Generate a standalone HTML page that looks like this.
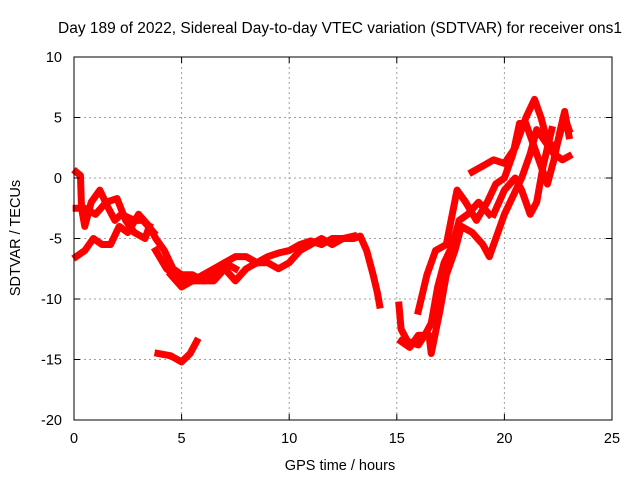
<!DOCTYPE html>
<html><head><meta charset="utf-8"><style>
body{margin:0;background:#fff;}
svg{display:block;font-family:"Liberation Sans",sans-serif;}
</style></head><body>
<svg id="chart" width="640" height="480">
<text x="340" y="33" font-size="15.5" text-anchor="middle">Day 189 of 2022, Sidereal Day-to-day VTEC variation (SDTVAR) for receiver ons1</text>
<text x="340" y="470" font-size="14.5" text-anchor="middle">GPS time / hours</text>
<text transform="translate(20,238) rotate(-90)" font-size="14.5" text-anchor="middle">SDTVAR / TECUs</text>
<g id="grid"></g><g id="series"></g><g id="axes"></g>
</svg>
<script>
const xTicks=[0,5,10,15,20,25];
const yTicks=[10,5,0,-5,-10,-15,-20];
const track1=[[0.1,0.5],[0.3,0.2],[0.35,-2.5],[0.5,-4],[0.8,-2],[1.2,-1],[1.6,-2.5],[1.9,-3.5],[2.2,-3],[2.8,-3.5],[3.2,-3.5],[3.7,-4.5]];
const track2=[[0.1,-2.5],[0.5,-2.5],[1,-3],[1.5,-2],[2,-1.7],[2.4,-3.5],[2.8,-4.5],[3.3,-5],[3.5,-4]];
const track3=[[0.1,-6.5],[0.5,-6],[0.9,-5],[1.3,-5.5],[1.7,-5.5],[2.1,-4],[2.5,-4.5],[3,-3],[3.5,-4],[3.8,-5],[4.2,-6],[4.6,-7.5],[5,-8],[5.5,-8],[6,-8.5],[6.5,-8],[7,-7],[7.5,-7.5]];
const track4=[[3.8,-6],[4.3,-7.5],[5,-8.5],[5.5,-8.5],[6,-8],[6.5,-7.5],[7,-7],[7.5,-6.5],[8,-6.5],[8.5,-7],[9,-6.5],[9.5,-6.2],[10,-6],[10.5,-5.5],[11,-5.2],[11.5,-5.5],[12,-5],[12.5,-5],[13,-5],[13.3,-4.8],[13.6,-6],[13.9,-8],[14.1,-9.5],[14.2,-10.5]];
const track5=[[4.5,-8],[5,-9],[5.5,-8.5],[6,-8.5],[6.5,-8.5],[7,-7.5],[7.5,-8.5],[8,-7.5],[8.5,-7],[9,-7],[9.5,-7.5],[10,-7],[10.5,-6],[11,-5.5],[11.5,-5],[12,-5.5],[12.5,-5],[13,-4.8]];
const track6=[[3.9,-14.5],[4.5,-14.7],[5,-15.2],[5.4,-14.5],[5.7,-13.5]];
const track7=[[15.1,-10.5],[15.2,-12.5],[15.5,-13.5],[16,-13.8],[16.3,-13],[16.6,-12],[16.9,-9],[17.2,-7],[17.6,-5.5],[17.9,-3.5],[18.3,-3],[18.8,-2],[19.3,-3]];
const track8=[[15.2,-13.5],[15.6,-14],[16,-13],[16.5,-13],[16.6,-14.5],[17,-11],[17.3,-8],[17.7,-6],[18,-4],[18.5,-4.5],[19,-5.5],[19.3,-6.5],[19.6,-5],[20,-3],[20.4,-1.5],[20.8,0],[21.2,2],[21.5,4],[21.9,3],[22.3,2],[22.7,1.5],[23,1.8]];
const track9=[[16,-11],[16.4,-8],[16.8,-6],[17.3,-5.5],[17.8,-1],[18.2,-2],[18.7,-3.5],[19.2,-2],[19.6,-0.5],[20,0],[20.4,2],[20.7,4.5],[21,4.5],[21.3,3],[21.7,1],[22,-0.5],[22.3,1.5],[22.6,4],[22.8,5.5],[23,3.5]];
const track10=[[18.5,0.5],[19,1],[19.5,1.5],[20,1.2],[20.5,2.5],[21,5],[21.4,6.5],[21.7,5],[22,3],[22.4,2.5],[22.8,5],[23,4]];
const track11=[[19.5,-3],[20,-1],[20.5,0],[20.8,-1],[21.2,-3],[21.5,-2],[21.8,1],[22.2,4]];
const tracks=[track1,track2,track3,track4,track5,track6,track7,track8,track9,track10,track11];
const L=74,R=612,T=57,B=420;
const xs=v=>L+(v-0)/(25-0)*(R-L);
const ys=v=>B-(v+20)/30*(B-T);
const ns="http://www.w3.org/2000/svg";
const grid=document.getElementById('grid'),axes=document.getElementById('axes'),ser=document.getElementById('series');
function mk(tag,attrs,parent){const e=document.createElementNS(ns,tag);for(const k in attrs)e.setAttribute(k,attrs[k]);parent.appendChild(e);return e;}
xTicks.forEach(t=>{const x=xs(t);
 if(t>0&&t<25){const g=mk('line',{x1:x,x2:x,y1:T,y2:B,stroke:'#a0a0a0','stroke-dasharray':'2,3'},grid);
 
 }
 mk('line',{x1:x,x2:x,y1:B,y2:B-6,stroke:'#000'},axes);mk('line',{x1:x,x2:x,y1:T,y2:T+6,stroke:'#000'},axes);
 const tx=mk('text',{x:x,y:B+23,'font-size':14.5,'text-anchor':'middle'},axes);tx.textContent=t;
 
 });
yTicks.forEach(t=>{const y=ys(t);
 if(t>-20&&t<10){const g=mk('line',{x1:L,x2:R,y1:y,y2:y,stroke:'#a0a0a0','stroke-dasharray':'2,3'},grid);
 
 }
 mk('line',{x1:L,x2:L+6,y1:y,y2:y,stroke:'#000'},axes);mk('line',{x1:R,x2:R-6,y1:y,y2:y,stroke:'#000'},axes);
 const tx=mk('text',{x:L-12,y:y+5,'font-size':14.5,'text-anchor':'end'},axes);tx.textContent=t;
 
 });
const box=mk('rect',{x:L,y:T,width:R-L,height:B-T,fill:'none',stroke:'#000'},axes);


tracks.forEach(tr=>{const p=mk('polyline',{points:tr.map(d=>xs(d[0])+','+ys(d[1])).join(' '),fill:'none',stroke:'#ff0000','stroke-width':7,'stroke-linejoin':'round','stroke-linecap':'square'},ser);
 
 });
</script>
</body></html>
